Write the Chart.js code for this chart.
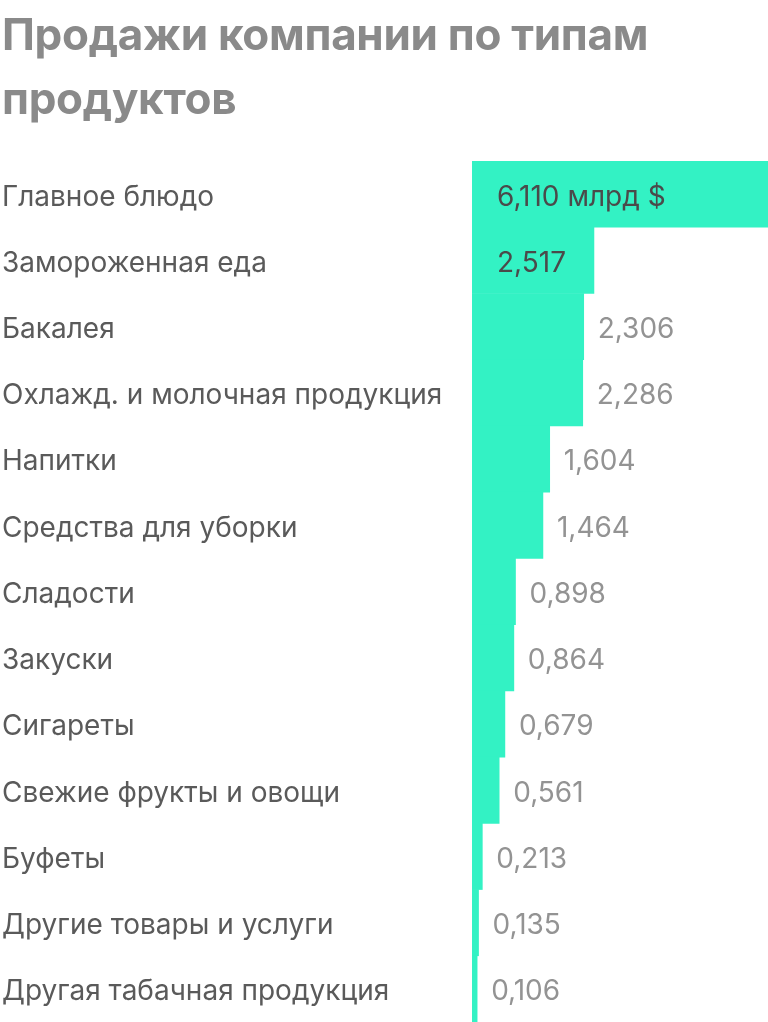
<!DOCTYPE html>
<html><head><meta charset="utf-8">
<script src="https://cdn.jsdelivr.net/npm/chart.js@4"></script>
<style>
html,body{margin:0;padding:0;background:#fff;width:768px;height:1022px;overflow:hidden}
#t{position:absolute;left:2px;top:2px;font-family:Inter,Roboto,sans-serif;font-weight:700;font-size:44px;line-height:64px;color:#8a8a8a;letter-spacing:-0.3px}
#w{position:absolute;left:0;top:0;width:768px;height:1022px}
</style></head><body>
<div id="w"><canvas id="c"></canvas></div>
<div id="t">Продажи компании по типам<br>продуктов</div>
<script>
const categories=["Главное блюдо","Замороженная еда","Бакалея","Охлажд. и молочная продукция","Напитки","Средства для уборки","Сладости","Закуски","Сигареты","Свежие фрукты и овощи","Буфеты","Другие товары и услуги","Другая табачная продукция"];
const values=[6.110,2.517,2.306,2.286,1.604,1.464,0.898,0.864,0.679,0.561,0.213,0.135,0.106];
const valueLabels=["6,110 млрд $","2,517","2,306","2,286","1,604","1,464","0,898","0,864","0,679","0,561","0,213","0,135","0,106"];
const labelsPlugin={id:'lbl',afterDatasetsDraw(ch){
 const ctx=ch.ctx, meta=ch.getDatasetMeta(0);
 ctx.save();ctx.font='28px Inter, Roboto, sans-serif';ctx.textBaseline='middle';
 meta.data.forEach((b,i)=>{
  const y=b.y+3;
  ctx.fillStyle='#5a5a5a';ctx.textAlign='left';ctx.fillText(categories[i],2,y);
  if(i<2){ctx.fillStyle='#4a4a4a';ctx.fillText(valueLabels[i],ch.chartArea.left+25,y);}
  else{ctx.fillStyle='#939393';ctx.fillText(valueLabels[i],b.x+14,y);}
 });ctx.restore();}};
new Chart(document.getElementById('c'),{type:'bar',
 data:{labels:categories,datasets:[{data:values,backgroundColor:'#33f2c4',borderWidth:0,categoryPercentage:1,barPercentage:1}]},
 options:{indexAxis:'y',responsive:true,maintainAspectRatio:false,animation:false,
  layout:{padding:{left:472,top:161,right:0,bottom:0}},
  plugins:{legend:{display:false},tooltip:{enabled:false}},
  scales:{x:{display:false,min:0,max:6.11},y:{display:false}}},
 plugins:[labelsPlugin]});
</script></body></html>
